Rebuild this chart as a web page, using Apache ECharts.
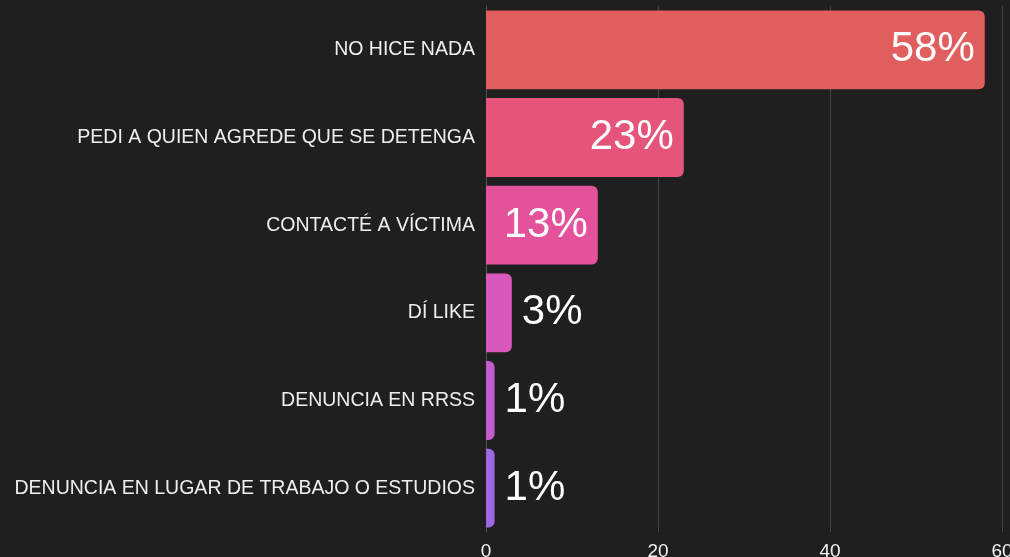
<!DOCTYPE html>
<html>
<head>
<meta charset="utf-8">
<script src="https://cdn.jsdelivr.net/npm/echarts@6/dist/echarts.min.js"></script>
<style>
  html, body { margin: 0; padding: 0; background: #1f1f1f; }
  #chart { width: 1010px; height: 557px; }
</style>
</head>
<body>
<div id="chart"></div>
<script>
const categories = [
  'NO HICE NADA',
  'PEDI A QUIEN AGREDE QUE SE DETENGA',
  'CONTACTÉ A VÍCTIMA',
  'DÍ LIKE',
  'DENUNCIA EN RRSS',
  'DENUNCIA EN LUGAR DE TRABAJO O ESTUDIOS'
]
const values = [58, 23, 13, 3, 1, 1]
const barColors = ['#e15e5e', '#e5547a', '#e3529a', '#d858bb', '#c35ccf', '#9e67e4']
// big bars get the label inside, small ones outside
const insideLabel = [true, true, true, false, false, false]

const font = 'Liberation Sans'
const chart = echarts.init(document.getElementById('chart'))

chart.setOption({
  backgroundColor: '#1f1f1f',
  animation: false,
  grid: { left: 486, right: 8, top: 6, bottom: 25, outerBoundsMode: 'none' },
  xAxis: {
    type: 'value',
    min: 0,
    max: 60,
    interval: 20,
    axisLine: { show: false },
    axisTick: { show: false },
    axisLabel: { color: '#f2f2f2', fontSize: 19, fontFamily: font, margin: 10 },
    splitLine: { lineStyle: { color: '#444', width: 1 } }
  },
  yAxis: {
    type: 'category',
    inverse: true,
    data: categories,
    axisLine: { show: true, lineStyle: { color: '#555' } },
    axisTick: { show: false },
    axisLabel: { color: '#eeeeee', fontSize: 19.5, fontFamily: font, margin: 11 }
  },
  series: [{
    type: 'bar',
    barCategoryGap: '10%',
    data: values.map((v, i) => ({
      value: v,
      itemStyle: { color: barColors[i], borderRadius: [0, 6, 6, 0] },
      label: {
        show: true,
        position: insideLabel[i] ? 'insideRight' : 'right',
        distance: 10,
        formatter: '{c}%',
        color: '#ffffff',
        fontSize: 42,
        fontFamily: font
      }
    }))
  }]
})
</script>
</body>
</html>
